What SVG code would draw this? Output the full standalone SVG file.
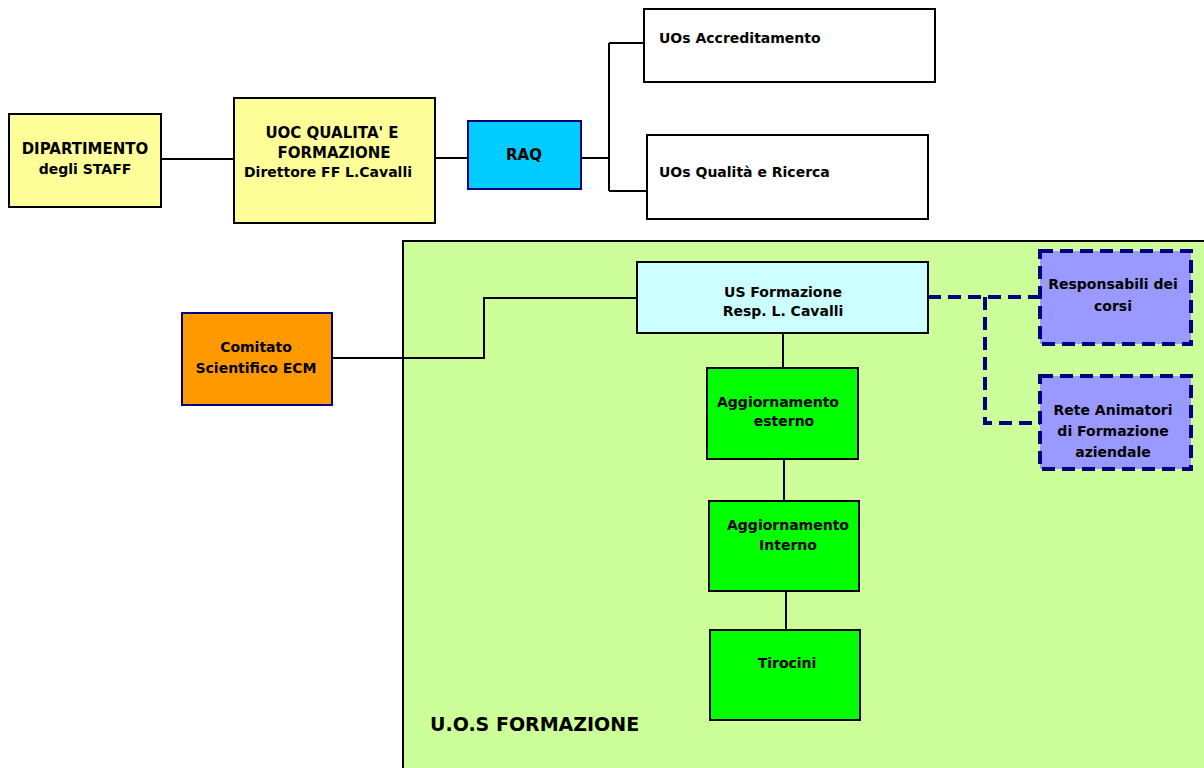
<svg xmlns="http://www.w3.org/2000/svg" width="1204" height="768" viewBox="0 0 1204 768">
<style>
text{font-family:"DejaVu Sans","Liberation Sans",sans-serif;font-weight:bold;font-size:14px;fill:#000}
.c{text-anchor:middle}
.k{font-size:15px}
.box{stroke:#000;stroke-width:2}
.navy{stroke:#000080;stroke-width:2}
.dash{fill:#9999FF;stroke:#000080;stroke-width:4;stroke-dasharray:13 7}
.ln{fill:none;stroke:#000;stroke-width:2}
.dl{fill:none;stroke:#000080;stroke-width:4;stroke-dasharray:13 7}
</style>
<rect width="1204" height="768" fill="#fff"/>
<g id="area">
<rect x="403" y="241" width="810" height="540" fill="#CCFF99" stroke="#000" stroke-width="2"/>
<text x="430" y="731" style="font-size:19px">U.O.S FORMAZIONE</text>
</g>
<g id="connectors">
<path class="ln" d="M161 159H234M435 158H468M581 158H609M609 43V191M609 43H644M609 191H647"/>
<path class="ln" d="M332 358H484V298H637"/>
<path class="ln" d="M783 333V368M784 459V501M786 591V630"/>
<path class="dl" d="M928 297H1040M985 297V423H1040"/>
</g>
<g id="dipartimento">
<rect class="box" x="9" y="114" width="152" height="93" fill="#FFFF99"/>
<text class="c k" x="85" y="154">DIPARTIMENTO</text>
<text class="c" x="85" y="174">degli STAFF</text>
</g>
<g id="uoc">
<rect class="box" x="234" y="98" width="201" height="125" fill="#FFFF99"/>
<text class="c k" x="332" y="138">UOC QUALITA' E</text>
<text class="c k" x="334" y="158">FORMAZIONE</text>
<text class="c" x="328" y="177">Direttore FF L.Cavalli</text>
</g>
<g id="raq">
<rect class="navy" x="468" y="121" width="113" height="68" fill="#00CCFF"/>
<text class="c k" x="524" y="160">RAQ</text>
</g>
<g id="accreditamento">
<rect class="box" x="644" y="9" width="291" height="73" fill="#fff"/>
<text x="659" y="43">UOs Accreditamento</text>
</g>
<g id="qualita">
<rect class="box" x="647" y="135" width="281" height="84" fill="#fff"/>
<text x="659" y="177">UOs Qualità e Ricerca</text>
</g>
<g id="comitato">
<rect class="navy" x="182" y="313" width="150" height="92" fill="#FF9900"/>
<text class="c" x="256" y="352">Comitato</text>
<text class="c" x="256" y="373">Scientifico ECM</text>
</g>
<g id="usformazione">
<rect class="box" x="637" y="262" width="291" height="71" fill="#CCFFFF"/>
<text class="c" x="783" y="297">US Formazione</text>
<text class="c" x="783" y="316">Resp. L. Cavalli</text>
</g>
<g id="esterno">
<rect class="box" x="707" y="368" width="151" height="91" fill="#00FF00"/>
<text class="c" x="778" y="407">Aggiornamento</text>
<text class="c" x="784" y="426">esterno</text>
</g>
<g id="interno">
<rect class="box" x="709" y="501" width="150" height="90" fill="#00FF00"/>
<text class="c" x="788" y="530">Aggiornamento</text>
<text class="c" x="788" y="550">Interno</text>
</g>
<g id="tirocini">
<rect class="box" x="710" y="630" width="150" height="90" fill="#00FF00"/>
<text class="c" x="787" y="668">Tirocini</text>
</g>
<g id="responsabili">
<rect class="dash" x="1040" y="251" width="151" height="93"/>
<text class="c" x="1113" y="289">Responsabili dei</text>
<text class="c" x="1113" y="311">corsi</text>
</g>
<g id="rete">
<rect class="dash" x="1040" y="376" width="151" height="93"/>
<text class="c" x="1113" y="415">Rete Animatori</text>
<text class="c" x="1113" y="436">di Formazione</text>
<text class="c" x="1113" y="457">aziendale</text>
</g>
</svg>
